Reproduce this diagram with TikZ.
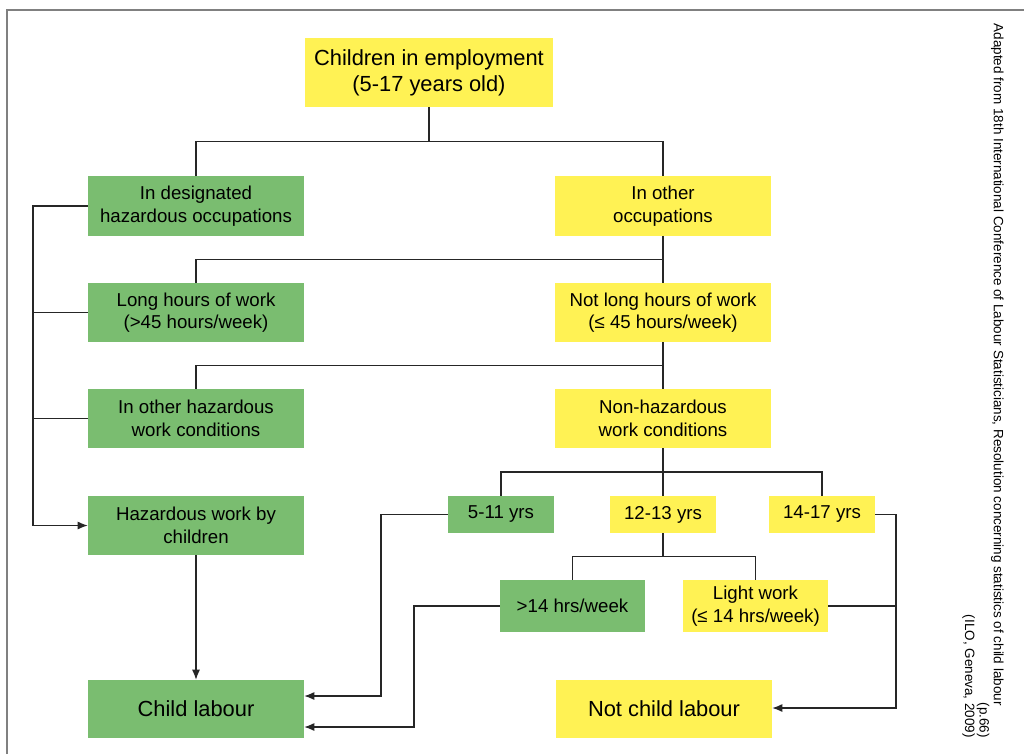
\documentclass[tikz,border=0pt]{standalone}
\usepackage{fontspec}
\setmainfont{Liberation Sans}
\usetikzlibrary{arrows.meta,positioning,calc}
\definecolor{boxgreen}{RGB}{122,189,112}
\definecolor{boxyellow}{RGB}{255,242,84}

\begin{document}
\begin{tikzpicture}[
  x=0.75pt, y=-0.75pt,
  font=\fontsize{14}{17}\selectfont,
  box/.style={align=center, inner sep=2pt, minimum width=162pt, minimum height=44.5pt},
  gbox/.style={box, fill=boxgreen},
  ybox/.style={box, fill=boxyellow},
  big/.style={font=\fontsize{16.4}{19.5}\selectfont},
  yrs/.style={minimum width=79.5pt, minimum height=27.75pt},
  hrs/.style={minimum width=108.75pt, minimum height=39pt},
  conn/.style={draw=black!85, line width=0.9pt},
  arr/.style={conn, -{Latex[length=7.5pt,width=6pt]}}
]
\useasboundingbox (0,0) rectangle (1024,754);
\draw[black!50, line width=1.5pt] (7,754) -- (7,10) -- (1024,10);
% boxes
\node[ybox, big, minimum width=186pt, minimum height=51.75pt] (top) at (429,72.5) {Children in employment\\(5-17 years old)};
\node[gbox] (desig) at (196,206) {In designated\\hazardous occupations};
\node[ybox] (oth) at (663,206) {In other\\occupations};
\node[gbox] (long) at (196,312.5) {Long hours of work\\(>45 hours/week)};
\node[ybox] (nlong) at (663,312.5) {Not long hours of work\\(≤ 45 hours/week)};
\node[gbox] (ohaz) at (196,418.5) {In other hazardous\\work conditions};
\node[ybox] (nhaz) at (663,418.5) {Non-hazardous\\work conditions};
\node[gbox] (hwork) at (196,525.5) {Hazardous work by\\children};
\node[gbox, yrs] (y511) at (501,514.5) {5-11 yrs};
\node[ybox, yrs] (y1213) at (663,514.5) {12-13 yrs};
\node[ybox, yrs] (y1417) at (822,514.5) {14-17 yrs};
\node[gbox, hrs] (over) at (572.5,606) {>14 hrs/week};
\node[ybox, hrs] (light) at (755.5,606) {Light work\\(≤ 14 hrs/week)};
\node[gbox, big, minimum height=43.5pt] (cl) at (196,709) {Child labour};
\node[ybox, big, minimum height=43.5pt] (ncl) at (664,709) {Not child labour};
% source note
\node[rotate=-90, anchor=north east, align=right, inner sep=0pt,
  font=\fontsize{10.1}{10.8}\selectfont] (src) at (1004,738)
  {Adapted from 18th International Conference of Labour Statisticians, Resolution concerning statistics of child labour\hspace*{24pt}\\(p.66)\\(ILO, Geneva, 2009)};
% tree
\coordinate (j1) at ($(top.south)!0.5!(desig.north)$);
\draw[conn] (top.south) -- (top.south |- j1);
\draw[conn] (desig.north) |- (top.south |- j1) -| (oth.north);
\draw[conn] (oth.south) -- (nlong.north);
\draw[conn] (long.north) |- ($(oth.south)!0.5!(nlong.north)$);
\draw[conn] (nlong.south) -- (nhaz.north);
\draw[conn] (ohaz.north) |- ($(nlong.south)!0.5!(nhaz.north)$);
\coordinate (j4) at ($(nhaz.south)!0.5!(y1213.north)$);
\draw[conn] (nhaz.south) -- (y1213.north);
\draw[conn] (y511.north) |- (j4) -| (y1417.north);
\coordinate (j5) at ($(y1213.south)!0.5!(over.north)$);
\draw[conn] (y1213.south) -- (y1213.south |- j5);
\draw[conn] (over.north) |- (y1213.south |- j5) -| (light.north);
% hazardous bus
\coordinate (lbus) at (33,0);
\draw[arr] (desig.west) -| (lbus |- hwork.west) -- (hwork.west);
\draw[conn] (long.west) -- (lbus |- long.west);
\draw[conn] (ohaz.west) -- (lbus |- ohaz.west);
\draw[arr] (hwork) -- (cl);
% to the outcomes
\coordinate (c1) at (381,696);
\coordinate (c2) at (414,727);
\coordinate (c3) at (896,708);
\draw[arr] (y511.west) -| (c1) -- (cl.east |- c1);
\draw[arr] (over.west) -| (c2) -- (cl.east |- c2);
\draw[arr] (y1417.east) -| (c3) -- (ncl.east |- c3);
\draw[conn] (light.east) -- (c3 |- light.east);
\end{tikzpicture}
\end{document}
